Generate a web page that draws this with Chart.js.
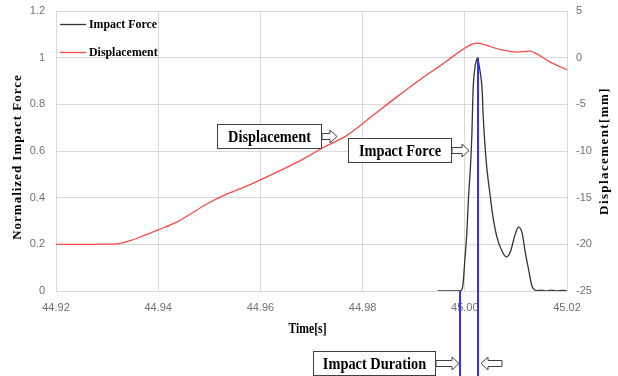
<!DOCTYPE html>
<html>
<head>
<meta charset="utf-8">
<script src="https://cdn.jsdelivr.net/npm/chart.js@4.4.1/dist/chart.umd.min.js"></script>
<style>
  html, body { margin: 0; padding: 0; background: #fff; }
  #chart { display: block; }
</style>
</head>
<body>
<canvas id="chart" width="618" height="376"></canvas>
<script>
// axis ticks
var timeTicks = [44.92, 44.94, 44.96, 44.98, 45.00, 45.02];
var timeLabels = ["44.92", "44.94", "44.96", "44.98", "45.00", "45.02"];
var forceTicks = [0, 0.2, 0.4, 0.6, 0.8, 1, 1.2];
var forceLabels = ["0", "0.2", "0.4", "0.6", "0.8", "1", "1.2"];
var dispTicks = [-25, -20, -15, -10, -5, 0, 5];
var dispLabels = ["-25", "-20", "-15", "-10", "-5", "0", "5"];

// normalized impact force (left axis)
var forceTime = [44.9947, 44.9991, 44.9996, 45.0000, 45.0004, 45.0007, 45.0011, 45.0014, 45.0016,
  45.0020, 45.0023, 45.0025, 45.0027, 45.0030, 45.0034, 45.0036, 45.0039, 45.0043, 45.0049,
  45.0055, 45.0063, 45.0073, 45.0081, 45.0089, 45.0099, 45.0105, 45.0112, 45.0118, 45.0125,
  45.0131, 45.0135, 45.0141, 45.0150, 45.0160, 45.0170, 45.0180, 45.0190, 45.0200];
var forceValue = [0, 0, 0.02, 0.13, 0.25, 0.39, 0.53, 0.68, 0.85,
  0.96, 0.99, 1.0, 0.98, 0.94, 0.86, 0.75, 0.64, 0.53, 0.42,
  0.32, 0.23, 0.17, 0.146, 0.167, 0.246, 0.274, 0.25, 0.17, 0.09,
  0.024, 0.008, 0.002, 0.004, 0, 0.004, 0, 0.003, 0];

// displacement in mm (right axis)
var dispTime = [44.9200, 44.9250, 44.9319, 44.9345, 44.9370, 44.9400, 44.9437, 44.9463, 44.9496,
  44.9535, 44.9580, 44.9600, 44.9672, 44.9724, 44.9770, 44.9815, 44.9867, 44.9919, 44.9952,
  44.9972, 44.9998, 45.0010, 45.0017, 45.0025, 45.0033, 45.0043, 45.0070, 45.0102, 45.0120,
  45.0128, 45.0138, 45.0167, 45.0200];
var dispValue = [-20.0, -20.0, -19.95, -19.6, -19.1, -18.45, -17.6, -16.75, -15.65,
  -14.6, -13.6, -13.1, -11.2, -9.6, -8.3, -6.4, -4.2, -2.1, -0.85,
  -0.05, 0.96, 1.35, 1.5, 1.56, 1.48, 1.32, 0.86, 0.6, 0.68,
  0.71, 0.49, -0.47, -1.29];

// impact duration markers
var durationTime = [44.9991, 45.0025];
var durationTop = [0, 1];

function toPoints(xs, ys) {
  return xs.map(function (x, i) { return { x: x, y: ys[i] }; });
}

var serif = "'Liberation Serif', 'Times New Roman', serif";

function drawScaledText(ctx, text, x, y, size, sx, align) {
  ctx.save();
  ctx.translate(x, y);
  ctx.scale(sx, 1);
  ctx.font = "bold " + size + "px " + serif;
  ctx.fillStyle = "#000";
  ctx.textAlign = align;
  ctx.textBaseline = "middle";
  ctx.fillText(text, 0, 0);
  ctx.restore();
}

function drawVerticalText(ctx, text, x, y, size, sy, spacing) {
  ctx.save();
  ctx.translate(x, y);
  ctx.rotate(-Math.PI / 2);
  ctx.scale(1, sy);
  ctx.font = "bold " + size + "px " + serif;
  ctx.letterSpacing = spacing + "px";
  ctx.fillStyle = "#000";
  ctx.textAlign = "center";
  ctx.textBaseline = "middle";
  ctx.fillText(text, 0, 0);
  ctx.restore();
}

function drawArrow(ctx, x, y, len, dir) {
  var shaft = 3, head = 6.5, headLen = 7;
  var neck = x + dir * (len - headLen);
  ctx.beginPath();
  ctx.moveTo(x, y - shaft);
  ctx.lineTo(neck, y - shaft);
  ctx.lineTo(neck, y - head);
  ctx.lineTo(x + dir * len, y);
  ctx.lineTo(neck, y + head);
  ctx.lineTo(neck, y + shaft);
  ctx.lineTo(x, y + shaft);
  ctx.closePath();
  ctx.fillStyle = "#fff";
  ctx.fill();
  ctx.strokeStyle = "#404040";
  ctx.lineWidth = 1;
  ctx.stroke();
}

// callout boxes (pixel layout of the annotations)
var callouts = [
  { text: "Displacement", box: [217.5, 124.5, 104, 24], arrows: [[322, 136.5, 15, 1]] },
  { text: "Impact Force", box: [348.5, 138.5, 103, 24], arrows: [[452, 150.5, 17, 1]] },
  { text: "Impact Duration", box: [313.5, 351.5, 122, 24], arrows: [[436, 363.5, 23, 1], [502, 363.5, 21, -1]] }
];

var extras = {
  id: "extras",
  afterDatasetsDraw: function (chart) {
    var ctx = chart.ctx;
    var xs = chart.scales.x, ys = chart.scales.y;
    var area = chart.chartArea;

    // impact duration lines
    ctx.save();
    ctx.strokeStyle = "#3030ff";
    ctx.lineWidth = 2;
    durationTime.forEach(function (t, i) {
      var px = Math.round(xs.getPixelForValue(t));
      ctx.beginPath();
      ctx.moveTo(px, ys.getPixelForValue(durationTop[i]));
      ctx.lineTo(px, chart.height);
      ctx.stroke();
    });
    ctx.restore();

    // callouts
    callouts.forEach(function (c) {
      var b = c.box;
      ctx.save();
      ctx.fillStyle = "#fff";
      ctx.fillRect(b[0], b[1], b[2], b[3]);
      ctx.strokeStyle = "#404040";
      ctx.lineWidth = 1;
      ctx.strokeRect(b[0], b[1], b[2], b[3]);
      ctx.restore();
      drawScaledText(ctx, c.text, b[0] + b[2] / 2, b[1] + b[3] / 2 + 1, 16.5, 0.87, "center");
      c.arrows.forEach(function (a) { drawArrow(ctx, a[0], a[1], a[2], a[3]); });
    });

    // legend
    chart.data.datasets.forEach(function (ds, i) {
      var ly = area.top + 13.5 + i * 28;
      ctx.save();
      ctx.strokeStyle = ds.borderColor;
      ctx.lineWidth = 1.3;
      ctx.beginPath();
      ctx.moveTo(area.left + 4, ly);
      ctx.lineTo(area.left + 30, ly);
      ctx.stroke();
      ctx.restore();
      drawScaledText(ctx, ds.label, area.left + 33, ly, 12.5, 0.95, "left");
    });

    // axis titles
    drawVerticalText(ctx, "Normalized Impact Force", 18, 157, 13, 0.9, 1);
    drawVerticalText(ctx, "Displacement[mm]", 605, 151, 13, 0.9, 1.4);
    drawScaledText(ctx, "Time[s]", (area.left + area.right) / 2 - 4, 329, 15, 0.78, "center");
  }
};

var tickFont = { family: "'Liberation Sans', Arial, sans-serif", size: 11 };
var gridColor = "#d9d9d9";

function fixVertical(width) {
  return function (s) {
    s.width = width;
    s.paddingTop = 0;
    s.paddingBottom = 0;
  };
}

new Chart(document.getElementById("chart"), {
  type: "line",
  data: {
    datasets: [
      {
        label: "Impact Force",
        data: toPoints(forceTime, forceValue),
        yAxisID: "y",
        borderColor: "#333333",
        borderWidth: 1.3,
        pointRadius: 0,
        cubicInterpolationMode: "monotone",
        fill: false
      },
      {
        label: "Displacement",
        data: toPoints(dispTime, dispValue),
        yAxisID: "y2",
        borderColor: "#ff4848",
        borderWidth: 1.3,
        pointRadius: 0,
        cubicInterpolationMode: "monotone",
        fill: false
      }
    ]
  },
  options: {
    responsive: false,
    animation: false,
    devicePixelRatio: 1,
    layout: { padding: { top: 11, left: 0, right: 0, bottom: 0 } },
    plugins: { legend: { display: false }, tooltip: { enabled: false } },
    scales: {
      x: {
        type: "linear",
        position: "bottom",
        min: 44.92,
        max: 45.02,
        afterBuildTicks: function (s) { s.ticks = timeTicks.map(function (v) { return { value: v }; }); },
        afterFit: function (s) { s.height = 85; s.paddingLeft = 0; s.paddingRight = 0; },
        ticks: {
          font: tickFont, color: "#707070", padding: 10, maxRotation: 0,
          callback: function (v, i) { return timeLabels[i]; }
        },
        grid: { color: gridColor, drawTicks: false },
        border: { color: gridColor }
      },
      y: {
        type: "linear",
        position: "left",
        min: 0,
        max: 1.2,
        afterBuildTicks: function (s) { s.ticks = forceTicks.map(function (v) { return { value: v }; }); },
        afterFit: fixVertical(56),
        ticks: {
          font: tickFont, color: "#707070", padding: 11,
          callback: function (v, i) { return forceLabels[i]; }
        },
        grid: { color: gridColor, drawTicks: false },
        border: { color: gridColor }
      },
      y2: {
        type: "linear",
        position: "right",
        min: -25,
        max: 5,
        afterBuildTicks: function (s) { s.ticks = dispTicks.map(function (v) { return { value: v }; }); },
        afterFit: fixVertical(51),
        ticks: {
          font: tickFont, color: "#707070", padding: 9,
          callback: function (v, i) { return dispLabels[i]; }
        },
        grid: { drawOnChartArea: false, drawTicks: false },
        border: { display: false }
      }
    }
  },
  plugins: [extras]
});
</script>
</body>
</html>
